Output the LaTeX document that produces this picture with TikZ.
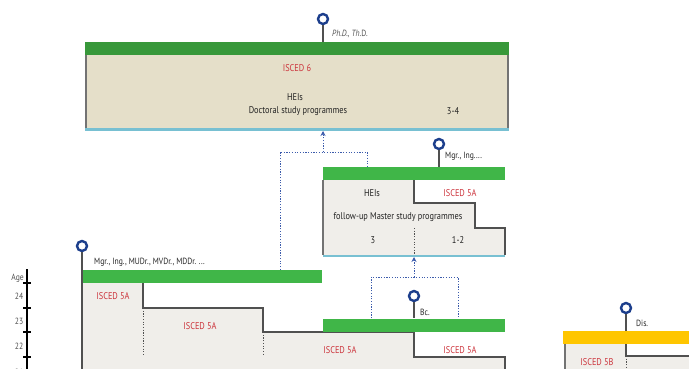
\documentclass[tikz,border=0pt]{standalone}
\usepackage{fontspec}
\setmainfont{PT Sans}[FakeStretch=0.85]
\usetikzlibrary{arrows.meta}
\definecolor{topgreen}{RGB}{56,152,58}
\definecolor{lowgreen}{RGB}{64,182,72}
\definecolor{beige}{RGB}{229,223,201}
\definecolor{lightgray}{RGB}{240,238,234}
\definecolor{cyanline}{RGB}{120,192,210}
\definecolor{bordergray}{RGB}{80,80,80}
\definecolor{iscedred}{RGB}{204,52,60}
\definecolor{pinblue}{RGB}{28,62,140}
\definecolor{dotblue}{RGB}{60,92,172}
\definecolor{disyellow}{RGB}{255,198,0}
\definecolor{txt}{RGB}{35,35,35}
\tikzset{
  bar/.style={inner sep=0pt, draw=none, minimum height=13pt},
  pinhead/.style={circle, draw=pinblue, line width=2.4pt, fill=white, minimum size=10pt, inner sep=0pt},
  stem/.style={draw=bordergray, line width=1.3pt},
  stepline/.style={draw=bordergray, line width=1.1pt},
  sideline/.style={draw=bordergray!80, line width=1.3pt},
  baseline/.style={draw=cyanline, line width=2.6pt},
  dotv/.style={draw=bordergray, line width=1pt, dash pattern=on 1.2pt off 1.5pt},
  bluedot/.style={draw=dotblue, line width=1pt, dash pattern=on 1.2pt off 1.5pt},
  bluearrow/.style={bluedot, -{Stealth[length=5pt,width=5pt,fill=dotblue]}},
  lbl/.style={text=txt, font=\fontsize{9.8}{10}\selectfont, inner sep=0pt},
  red/.style={text=iscedred, font=\fontsize{9.8}{10}\selectfont, inner sep=0pt},
  small/.style={text=txt, font=\fontsize{9}{10}\selectfont, inner sep=0pt, anchor=west},
  agelbl/.style={text=bordergray, font=\fontsize{9}{10}\selectfont, inner sep=0pt},
}
\begin{document}
\begin{tikzpicture}[x=1pt,y=-1pt]
\useasboundingbox (0,0) rectangle (689,369);
\clip (0,0) rectangle (689,369);

% ---------- top box (ISCED 6) ----------
\fill[beige] (86,55) rectangle (508,129);
\draw[sideline] (86,55) -- (86,129);
\draw[sideline] (508,55) -- (508,129);
\node[bar, fill=topgreen, minimum width=424pt] (phdbar) at (297,48.5) {};
\draw[baseline] (85,129.8) -- (509,129.8);
\coordinate (phdbottom) at (323,131);
\node[pinhead] (phdpin) at (323,19) {};
\draw[stem] (phdpin) -- (phdpin |- phdbar.north);
\node[small, text=bordergray] (phdlbl) at (332,34) {\itshape Ph.D., Th\upshape.D.};
\node[red] (isced6) at (297,68) {ISCED 6};
\node[lbl] (heis1) at (295,97) {HEIs};
\node[lbl] (doct) at (298,111) {Doctoral study programmes};
\node[lbl] (dur34) at (453,111) {3-4};

% ---------- Master box ----------
\fill[lightgray] (323,180) -- (414,180) -- (414,203) -- (475,203) -- (475,228)
  -- (505,228) -- (505,255) -- (323,255) -- cycle;
\draw[sideline] (323,180) -- (323,255);
\draw[stepline] (414,180) -- (414,203) -- (475,203) -- (475,228) -- (505,228) -- (505,255);
\node[bar, fill=lowgreen, minimum width=182pt] (mgrbar) at (414,173.5) {};
\draw[baseline] (323,255.8) -- (505,255.8);
\coordinate (mgrbottom) at (414,257);
\draw[dotv] (414,228) -- (414,254);
\node[pinhead] (mgrpin) at (439,144) {};
\draw[stem] (mgrpin) -- (mgrpin |- mgrbar.north);
\node[small] (mgrlbl) at (445,156) {Mgr., Ing....};
\node[lbl] (heis2) at (372,193) {HEIs};
\node[red] (isced5a1) at (460,193) {ISCED 5A};
\node[lbl] (follow) at (398,217) {follow-up Master study programmes};
\node[lbl] (dur3) at (373,240) {3};
\node[lbl] (dur12) at (458,240) {1-2};

% ---------- lower left box ----------
\fill[lightgray] (82,283) -- (143,283) -- (143,308) -- (263,308) -- (263,332)
  -- (414,332) -- (414,357) -- (505,357) -- (505,372) -- (82,372) -- cycle;
\draw[stepline] (143,283) -- (143,308) -- (263,308) -- (263,332) -- (414,332)
  -- (414,357) -- (505,357) -- (505,372);
\draw[dotv] (143,308) -- (143,354);
\draw[dotv] (263,332) -- (263,354);
\node[bar, fill=lowgreen, minimum width=240pt] (longbar) at (202,276.5) {};
\node[pinhead] (longpin) at (82,246) {};
\draw[stem] (longpin) -- (82,372);
\node[small] (longlbl) at (94,262) {Mgr., Ing., MUDr., MVDr., MDDr. ...};
\node[red] (isced5a2) at (113,296) {ISCED 5A};
\node[red] (isced5a3) at (200,326) {ISCED 5A};
\node[red] (isced5a4) at (340,350) {ISCED 5A};
\node[red] (isced5a5) at (460,350) {ISCED 5A};

% ---------- Bc. bar ----------
\node[bar, fill=lowgreen, minimum width=182pt] (bcbar) at (414,325) {};
\node[pinhead] (bcpin) at (414,296) {};
\draw[stem] (bcpin) -- (bcpin |- bcbar.north);
\node[small] (bclbl) at (420,312) {Bc.};

% ---------- Dis. box ----------
\fill[lightgray] (565,344) -- (626,344) -- (626,356) -- (692,356) -- (692,372) -- (565,372) -- cycle;
\draw[sideline] (565,344) -- (565,372);
\draw[stepline] (626,344) -- (626,356) -- (692,356);
\draw[dotv] (626,356) -- (626,372);
\node[bar, fill=disyellow, minimum width=130pt] (disbar) at (628,337.5) {};
\node[pinhead] (dispin) at (626,308) {};
\draw[stem] (dispin) -- (dispin |- disbar.north);
\node[small] (dislbl) at (636,323) {Dis.};
\node[red] (isced5b1) at (597,362) {ISCED 5B};
\node[red] (isced5b2) at (663,373) {ISCED 5B};

% ---------- progression arrows ----------
\coordinate (j1) at (280,152);
\coordinate (j2) at (367,152);
\coordinate (j3) at (323,152);
\draw[bluedot] (longbar.north -| j1) -- (j1) -- (j2) -- (mgrbar.north -| j2);
\draw[bluearrow] (j3) -- (phdbottom);
\coordinate (k1) at (371,277);
\coordinate (k2) at (458,277);
\coordinate (k3) at (414,277);
\draw[bluedot] (bcbar.north -| k1) -- (k1) -- (k2) -- (bcbar.north -| k2);
\draw[bluearrow] (k3) -- (mgrbottom);

% ---------- age axis ----------
\draw[draw=black, line width=1.3pt] (27,269) -- (27,372);
\foreach \y in {283,308,332,357}
  \draw[draw=black, line width=1.2pt] (23,\y) -- (31,\y);
\node[agelbl, anchor=east] (agelbl) at (24,278) {Age};
\node[agelbl] (a24) at (19,296) {24};
\node[agelbl] (a23) at (19,321) {23};
\node[agelbl] (a22) at (19,346) {22};
\node[agelbl] (a21) at (19,372) {21};
\end{tikzpicture}
\end{document}
